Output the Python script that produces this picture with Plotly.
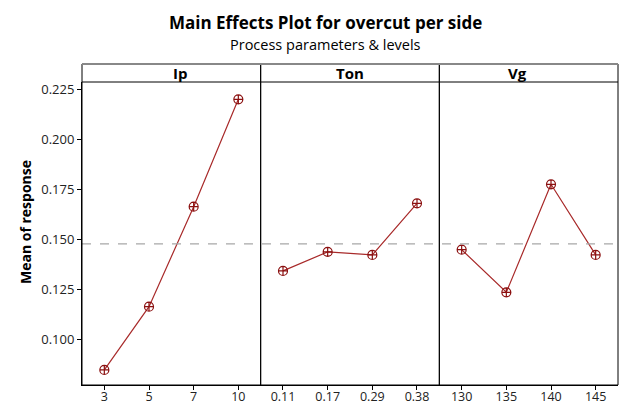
import plotly.graph_objects as go
from plotly.subplots import make_subplots

# Factor levels and mean responses
factors = ["Ip", "Ton", "Vg"]
ip_levels = ["3", "5", "7", "10"]
ip_means = [0.0847, 0.1163, 0.1663, 0.2200]
ton_levels = ["0.11", "0.17", "0.29", "0.38"]
ton_means = [0.1342, 0.1437, 0.1422, 0.1680]
vg_levels = ["130", "135", "140", "145"]
vg_means = [0.1448, 0.1235, 0.1775, 0.1422]
overall_mean = 0.1477

levels = [ip_levels, ton_levels, vg_levels]
means = [ip_means, ton_means, vg_means]

FONT = "Open Sans"
LINE_COLOR = "#a82a2a"
MARK_COLOR = "#8b1010"

fig = make_subplots(rows=1, cols=3, shared_yaxes=True, horizontal_spacing=0)

for i, (lv, mv) in enumerate(zip(levels, means), start=1):
    fig.add_trace(
        go.Scatter(
            x=lv, y=mv, mode="lines+markers",
            line=dict(color=LINE_COLOR, width=1.2),
            marker=dict(symbol="circle-cross-open", size=9,
                        color=MARK_COLOR, line=dict(width=1.2, color=MARK_COLOR)),
            showlegend=False, hoverinfo="x+y",
        ),
        row=1, col=i,
    )
    fig.update_xaxes(
        type="category", range=[-0.5, 3.5], automargin=False,
        showline=True, mirror=False, linecolor="black", linewidth=1,
        ticks="outside", ticklen=4, tickcolor="black", ticklabelstandoff=-4,
        showgrid=False, zeroline=False,
        tickfont=dict(family=FONT, size=12.5, color="#222"),
        row=1, col=i,
    )

fig.update_yaxes(
    range=[0.07715, 0.22865], dtick=0.025, tick0=0.1, tickformat=".3f",
    automargin=False, showline=False, showgrid=False, zeroline=False,
    tickfont=dict(family=FONT, size=13, color="#222"),
)
fig.update_yaxes(showline=True, linecolor="black", linewidth=1,
                 ticks="outside", ticklen=4, tickcolor="black", row=1, col=1)

# Overall mean reference line across all panels
fig.add_shape(type="line", xref="paper", yref="y", x0=0, x1=1,
              y0=overall_mean, y1=overall_mean,
              line=dict(color="#a8a8a8", width=1.2, dash="dash"))

# Panel frames and header strips
strip_h = 18 / 303
doms = [fig.layout.xaxis.domain, fig.layout.xaxis2.domain, fig.layout.xaxis3.domain]
for name, dom in zip(factors, doms):
    fig.add_shape(type="rect", xref="paper", yref="paper",
                  x0=dom[0], x1=dom[1], y0=0, y1=1 + strip_h,
                  line=dict(color="black", width=1), layer="above")
    fig.add_shape(type="line", xref="paper", yref="paper",
                  x0=dom[0], x1=dom[1], y0=1, y1=1,
                  line=dict(color="black", width=1))
    fig.add_annotation(text="<b>%s</b>" % name, xref="paper", yref="paper",
                       x=(dom[0] + dom[1]) / 2, y=1 + strip_h / 2,
                       showarrow=False, yanchor="middle",
                       font=dict(family=FONT, size=15, color="black"))
fig.add_shape(type="line", xref="paper", yref="paper", x0=0, x1=1,
              y0=1 + strip_h, y1=1 + strip_h,
              line=dict(color="#888", width=2))

# Titles
fig.add_annotation(text="<b>Main Effects Plot for overcut per side</b>",
                   xref="paper", yref="paper", x=(325 - 82) / 536,
                   y=1 + (82 - 22) / 303, showarrow=False, yanchor="middle",
                   font=dict(family=FONT, size=17, color="black"))
fig.add_annotation(text="Process parameters & levels",
                   xref="paper", yref="paper", x=(325 - 82) / 536,
                   y=1 + (82 - 45) / 303, showarrow=False, yanchor="middle",
                   font=dict(family=FONT, size=14.5, color="black"))
fig.add_annotation(text="<b>Mean of response</b>", xref="paper", yref="paper",
                   x=(25 - 82) / 536, y=(385 - 222) / 303, textangle=-90,
                   showarrow=False, xanchor="center", yanchor="middle",
                   font=dict(family=FONT, size=14, color="black"))

fig.update_layout(
    width=622, height=405,
    margin=dict(l=82, r=4, t=82, b=20),
    paper_bgcolor="white", plot_bgcolor="white",
)

fig.write_html("out.html")
